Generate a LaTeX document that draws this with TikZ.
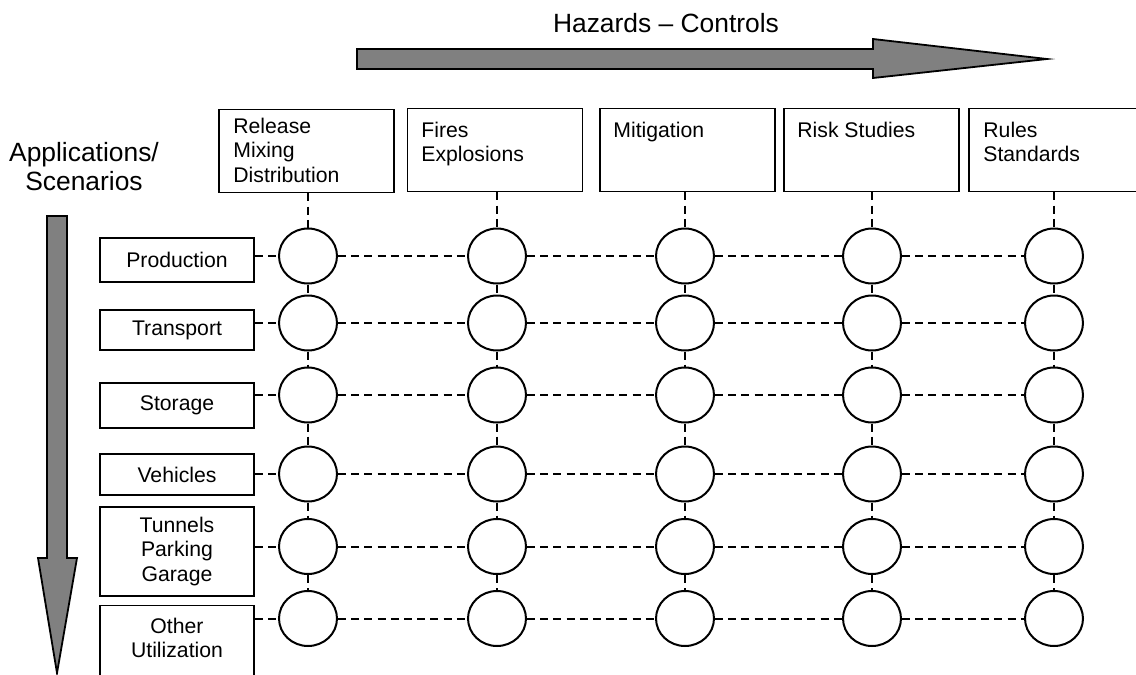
\documentclass[tikz,border=0pt]{standalone}
\usepackage{fontspec}
\setmainfont{Liberation Sans}
\usetikzlibrary{shapes.geometric}
\begin{document}
\begin{tikzpicture}[x=0.5pt,y=-0.5pt,
  bigfont/.style={font=\fontsize{13.2pt}{14.6pt}\selectfont},
  smallfont/.style={font=\fontsize{10.6pt}{12.3pt}\selectfont},
  tbox/.style={draw, line width=0.9pt, rectangle, inner sep=0pt, minimum width=87.5pt, minimum height=41.5pt},
  lbox/.style={draw, line width=0.9pt, rectangle, inner sep=0pt, minimum width=77pt, align=center, smallfont},
  ttext/.style={anchor=north west, align=left, inner sep=0pt, smallfont},
  circ/.style={draw, line width=1pt, ellipse, inner sep=0pt, minimum width=29pt, minimum height=27.5pt},
  dsh/.style={line width=1pt, dash pattern=on 4pt off 2.6pt},
  bigarrow/.style={draw, line width=0.9pt, fill=black!50, line join=miter}
]
\useasboundingbox (0,0) rectangle (1136,675);

% titles
\node[bigfont, anchor=base, inner sep=0pt] (title) at (666,32) {Hazards -- Controls};
\node[bigfont, anchor=north, align=center, inner sep=0pt] (apps) at (84,142) {Applications/\\Scenarios};

% big arrows
\draw[bigarrow] (357,49) -- (873,49) -- (873,39) -- (1047,59) -- (873,78) -- (873,69) -- (357,69) -- cycle;
\draw[bigarrow] (47,216) -- (67,216) -- (67,558) -- (77,558) -- (57,673) -- (38,558) -- (47,558) -- cycle;

% top boxes
\node[tbox] (h1) at (306.5,151) {};
\node[tbox] (h2) at (495,150) {};
\node[tbox] (h3) at (687.5,150) {};
\node[tbox] (h4) at (871.5,150) {};
\node[tbox] (h5) at (1056.5,150) {};
\node[ttext] (h1t) at (233,117.5) {Release\\Mixing\\Distribution};
\node[ttext] (h2t) at (421,121.5) {Fires\\Explosions};
\node[ttext] (h3t) at (613,121.5) {Mitigation};
\node[ttext] (h4t) at (797,121.5) {Risk Studies};
\node[ttext] (h5t) at (983,121.5) {Rules\\Standards};

% left boxes
\node[lbox, minimum height=22pt] (l1) at (177,260) {Production};
\node[lbox, minimum height=20pt] (l2) at (177,330) {Transport};
\node[lbox, minimum height=22.5pt] (l3) at (177,405.5) {Storage};
\node[lbox, minimum height=20.5pt] (l4) at (177,474.5) {Vehicles};
\node[lbox, minimum height=44.5pt] (l5) at (177,551.5) {Tunnels\\Parking\\Garage};
\node[lbox, minimum height=56pt, anchor=north] (l6) at (177,604.5) {};
\node[align=center, inner sep=0pt, smallfont] (l6t) at (177,638) {Other\\Utilization};

% circles
\foreach \r/\y in {1/256, 2/323, 3/395, 4/474, 5/546.5, 6/618.5} {
  \foreach \c/\x in {1/308, 2/497, 3/685, 4/872, 5/1054} {
    \node[circ] (c-\r-\c) at (\x,\y) {};
  }
}

% horizontal connectors
\foreach \r in {1,...,6} {
  \draw[dsh] (l\r.east |- c-\r-1.west) -- (c-\r-1.west);
  \foreach \c [evaluate=\c as \n using int(\c+1)] in {1,...,4} {
    \draw[dsh] (c-\r-\c.east) -- (c-\r-\n.west);
  }
}

% vertical connectors
\foreach \c in {1,...,5} {
  \draw[dsh] (h\c.south -| c-1-\c.north) -- (c-1-\c.north);
  \foreach \r [evaluate=\r as \n using int(\r+1)] in {1,...,5} {
    \draw[dsh] (c-\r-\c.south) -- (c-\n-\c.north);
  }
}
\end{tikzpicture}
\end{document}
